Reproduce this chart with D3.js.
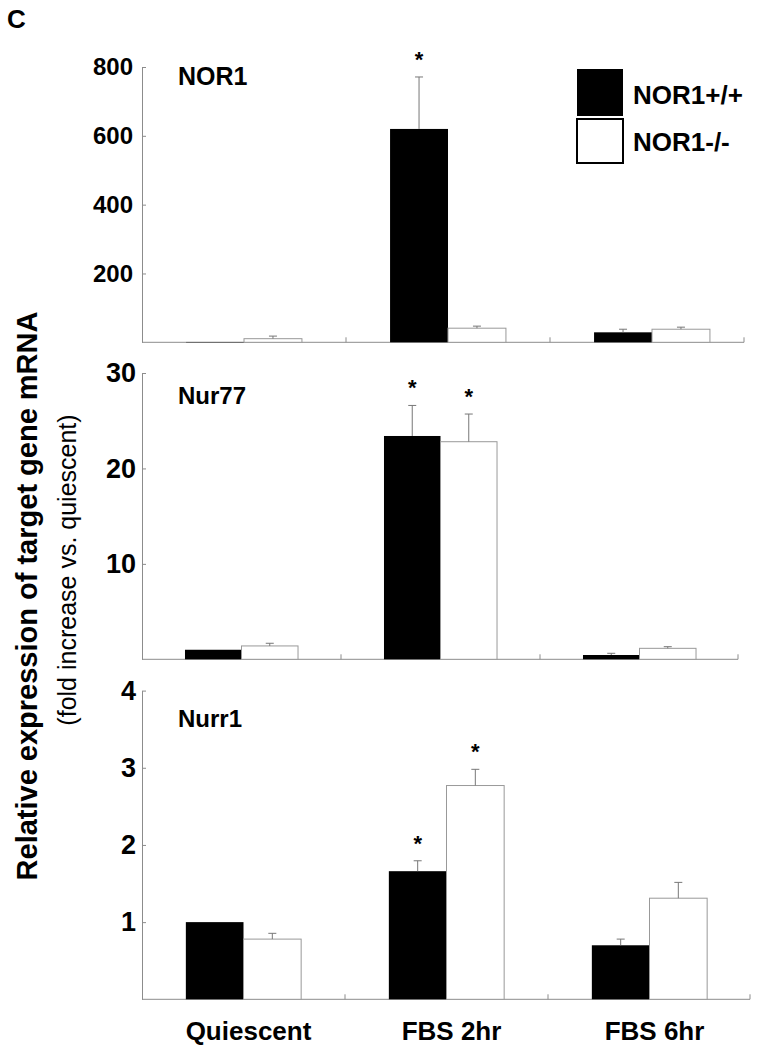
<!DOCTYPE html>
<html>
<head>
<meta charset="utf-8">
<script src="https://cdn.jsdelivr.net/npm/d3@7"></script>
<style>
  body { margin: 0; background: #fff; }
  svg text { font-family: "Liberation Sans", Arial, Helvetica, sans-serif; }
</style>
</head>
<body>
<svg id="chart" width="762" height="1050"></svg>
<script>
// ---- 数据 ----
const categories = ["Quiescent", "FBS 2hr", "FBS 6hr"];
const genotypes = ["NOR1+/+", "NOR1-/-"];

// NOR1
const nor1Wt = [1, 620, 29];
const nor1WtErr = [0, 151, 9];
const nor1Ko = [10.5, 41, 38];
const nor1KoErr = [7.5, 6, 6];
const nor1Sig = [[1, 0]];          // [类别序号, 基因型序号]
const nor1Ticks = [200, 400, 600, 800];

// Nur77
const nur77Wt = [1.0, 23.4, 0.45];
const nur77WtErr = [0, 3.2, 0.18];
const nur77Ko = [1.4, 22.8, 1.15];
const nur77KoErr = [0.28, 2.9, 0.17];
const nur77Sig = [[1, 0], [1, 1]];
const nur77Ticks = [10, 20, 30];

// Nurr1
const nurr1Wt = [1.0, 1.66, 0.70];
const nurr1WtErr = [0, 0.135, 0.08];
const nurr1Ko = [0.78, 2.77, 1.31];
const nurr1KoErr = [0.075, 0.21, 0.205];
const nurr1Sig = [[1, 0], [1, 1]];
const nurr1Ticks = [1, 2, 3, 4];

// ---- 版式（每个面板的位置） ----
const panels = [
  { gene: "NOR1", wt: nor1Wt, wtErr: nor1WtErr, ko: nor1Ko, koErr: nor1KoErr, sig: nor1Sig,
    ticks: nor1Ticks, top: 67, bottom: 342.3, xEnd: 754, axisEnd: 744, tickFs: 24, pad: 9, titleDy: 18, titleFs: 25 },
  { gene: "Nur77", wt: nur77Wt, wtErr: nur77WtErr, ko: nur77Ko, koErr: nur77KoErr, sig: nur77Sig,
    ticks: nur77Ticks, top: 373, bottom: 659.3, xEnd: 739, axisEnd: 738, tickFs: 27, pad: 6, titleDy: 31, titleFs: 24 },
  { gene: "Nurr1", wt: nurr1Wt, wtErr: nurr1WtErr, ko: nurr1Ko, koErr: nurr1KoErr, sig: nurr1Sig,
    ticks: nurr1Ticks, top: 690.6, bottom: 999.3, xEnd: 751, axisEnd: 750, tickFs: 27, pad: 6, titleDy: 36, titleFs: 24 }
];

const X0 = 142;
const AXIS = "#8c8c8c";
const svg = d3.select("#chart");

svg.append("text").attr("x", 7).attr("y", 28).style("font-size", "26px").attr("font-weight", "bold").text("C");

panels.forEach((p) => {
  const g = svg.append("g");
  const x = d3.scaleBand().domain(categories).range([X0, p.xEnd]).paddingInner(0).paddingOuter(0);
  const y = d3.scaleLinear().domain([0, d3.max(p.ticks)]).range([p.bottom, p.top]);
  const bw = x.bandwidth() * 0.284;

  // y 轴
  const ya = g.append("g").attr("transform", `translate(${X0},0)`)
    .call(d3.axisLeft(y).tickValues(p.ticks).tickFormat(d3.format("d"))
      .tickSize(-4).tickSizeOuter(0).tickPadding(p.pad));
  ya.attr("font-family", null);
  ya.select(".domain").attr("stroke", AXIS);
  ya.selectAll(".tick line").attr("stroke", AXIS);
  ya.selectAll(".tick text").attr("fill", "#000").style("font-size", p.tickFs + "px")
    .attr("font-weight", "bold");

  // x 轴基线 + 分隔刻度
  g.append("line").attr("x1", X0).attr("x2", p.axisEnd).attr("y1", p.bottom).attr("y2", p.bottom)
    .attr("stroke", AXIS);
  g.selectAll("line.sep").data(categories).join("line").attr("class", "sep")
    .attr("x1", (d) => Math.min(x(d) + x.bandwidth(), p.axisEnd))
    .attr("x2", (d) => Math.min(x(d) + x.bandwidth(), p.axisEnd))
    .attr("y1", p.bottom).attr("y2", p.bottom - 5).attr("stroke", AXIS);

  // 柱
  const rows = [];
  categories.forEach((c, i) => {
    const cx = x(c) + x.bandwidth() / 2;
    rows.push({ c, i, k: 0, x0: cx - bw, v: p.wt[i], e: p.wtErr[i] });
    rows.push({ c, i, k: 1, x0: cx, v: p.ko[i], e: p.koErr[i] });
  });

  g.selectAll("rect.bar").data(rows).join("rect").attr("class", "bar")
    .attr("x", (d) => d.x0).attr("width", bw)
    .attr("y", (d) => y(d.v)).attr("height", (d) => p.bottom - y(d.v))
    .attr("fill", (d) => (d.k === 0 ? "#000" : "#fff"))
    .attr("stroke", (d) => (d.k === 0 ? "none" : "#999"));

  // 误差线
  const eb = rows.filter((d) => d.e > 0);
  g.selectAll("line.err").data(eb).join("line").attr("class", "err")
    .attr("x1", (d) => d.x0 + bw / 2).attr("x2", (d) => d.x0 + bw / 2)
    .attr("y1", (d) => y(d.v)).attr("y2", (d) => y(d.v + d.e)).attr("stroke", "#777");
  g.selectAll("line.cap").data(eb).join("line").attr("class", "cap")
    .attr("x1", (d) => d.x0 + bw / 2 - 4).attr("x2", (d) => d.x0 + bw / 2 + 4)
    .attr("y1", (d) => y(d.v + d.e)).attr("y2", (d) => y(d.v + d.e)).attr("stroke", "#777");

  // 显著性星号
  g.selectAll("text.sig").data(p.sig).join("text").attr("class", "sig")
    .attr("x", (s) => rows[s[0] * 2 + s[1]].x0 + bw / 2)
    .attr("y", (s) => { const r = rows[s[0] * 2 + s[1]]; return y(r.v + r.e) - 10; })
    .attr("text-anchor", "middle").style("font-size", "22px").attr("font-weight", "bold").text("*");

  // 基因名
  g.append("text").attr("x", 178).attr("y", p.top + p.titleDy)
    .style("font-size", p.titleFs + "px").attr("font-weight", "bold").text(p.gene);

  // 底部类别标签
  if (p === panels[panels.length - 1]) {
    g.selectAll("text.cat").data(categories).join("text").attr("class", "cat")
      .attr("x", (d) => x(d) + x.bandwidth() / 2 + 5).attr("y", 1040)
      .attr("text-anchor", "middle").style("font-size", "26px").attr("font-weight", "bold").text((d) => d);
  }
});

// 图例
const lg = svg.append("g").attr("transform", "translate(577,69)");
lg.selectAll("rect").data(genotypes).join("rect")
  .attr("x", 0).attr("y", (d, i) => i * 50).attr("width", 46).attr("height", (d, i) => (i ? 44 : 47))
  .attr("fill", (d, i) => (i ? "#fff" : "#000")).attr("stroke", "#000").attr("stroke-width", (d, i) => (i ? 2 : 0));
lg.selectAll("text").data(genotypes).join("text")
  .attr("x", 56).attr("y", (d, i) => 35 + i * 47)
  .style("font-size", "26px").attr("font-weight", "bold").text((d) => d);

// y 轴标题
svg.append("text").attr("transform", "translate(37,596) rotate(-90)")
  .attr("text-anchor", "middle").style("font-size", "29px").attr("font-weight", "bold")
  .text("Relative expression of target gene mRNA");
svg.append("text").attr("transform", "translate(76,570) rotate(-90)")
  .attr("text-anchor", "middle").style("font-size", "25px")
  .text("(fold increase vs. quiescent)");
</script>
</body>
</html>
